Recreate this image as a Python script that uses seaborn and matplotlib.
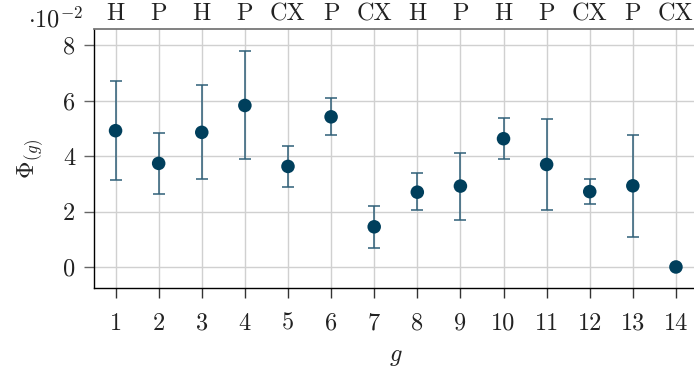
import matplotlib
matplotlib.use("Agg")
import matplotlib.pyplot as plt
import seaborn as sns
import pandas as pd
import numpy as np

g = list(range(1, 15))
gate = ["H", "P", "H", "P", "CX", "P", "CX", "H", "P", "H", "P", "CX", "P", "CX"]
phi = [4.92, 3.74, 4.86, 5.83, 3.63, 5.42, 1.45, 2.70, 2.92, 4.63, 3.70, 2.72, 2.93, 0.0]
upper = [6.70, 4.82, 6.56, 7.79, 4.36, 6.10, 2.19, 3.38, 4.13, 5.36, 5.33, 3.17, 4.76, 0.0]
lower = [3.13, 2.65, 3.17, 3.90, 2.88, 4.75, 0.70, 2.04, 1.71, 3.88, 2.07, 2.29, 1.10, 0.0]

df = pd.DataFrame({"g": g, "phi": phi, "upper": upper, "lower": lower, "gate": gate})

sns.set_theme(style="whitegrid")
plt.rcParams["font.family"] = ["cmr10", "DejaVu Serif"]
plt.rcParams["mathtext.fontset"] = "cm"
plt.rcParams["axes.formatter.use_mathtext"] = True

FS = 17.5
fig = plt.figure(figsize=(6.94, 3.70), dpi=100)
ax = fig.add_axes([94 / 694, 1 - 288.3 / 370, (697.5 - 94) / 694, (288.3 - 29.3) / 370])

dark = "#003f5c"
err_col = "#2f5f78"
yerr = np.array([np.array(phi) - np.array(lower), np.array(upper) - np.array(phi)])
mask = (yerr.sum(axis=0) > 0)
ax.errorbar(df["g"][mask], df["phi"][mask], yerr=yerr[:, mask], fmt="none",
            ecolor=err_col, elinewidth=1.1, capsize=4, capthick=1.1, zorder=2)
sns.scatterplot(data=df, x="g", y="phi", ax=ax, color=dark, s=95,
                edgecolor="none", zorder=3, legend=False)

ax.set_xlim(0.5, 14.5)
ax.set_ylim(-0.77, 8.58)
ax.set_xticks(g)
ax.set_xticklabels([str(v) for v in g])
yt = [0, 2, 4, 6, 8]
ax.set_yticks(yt)
ax.set_yticklabels([str(v) for v in yt])

ax.grid(True, color="#d0d0d0", linewidth=1.0)
ax.set_axisbelow(True)
for s in ["left", "bottom"]:
    ax.spines[s].set_color("black")
    ax.spines[s].set_linewidth(1.0)
ax.spines["top"].set_color("#777777")
ax.spines["top"].set_linewidth(1.3)
ax.spines["right"].set_visible(False)

ax.tick_params(axis="both", which="major", labelsize=FS, length=7.5, width=1.0,
               direction="out", labelcolor="#222222")
ax.tick_params(axis="x", bottom=True, color="#333333", pad=10)
ax.tick_params(axis="y", left=True, color="#666666", pad=6)

ax.set_xlabel(r"$g$", fontsize=FS, labelpad=8, color="#222222")
ax.set_ylabel(r"$\Phi_{(g)}$", fontsize=FS, labelpad=13, color="#222222")

top = ax.secondary_xaxis("top")
top.set_xticks(g)
top.set_xticklabels(gate)
top.tick_params(axis="x", length=0, labelsize=FS, pad=3, labelcolor="#222222")
top.spines["top"].set_visible(False)

fig.text(28 / 694, 1 - 20 / 370, r"$\cdot 10^{-2}$", fontsize=FS, va="center",
         ha="left", color="#222222")

fig.savefig("out.png", dpi=100)
